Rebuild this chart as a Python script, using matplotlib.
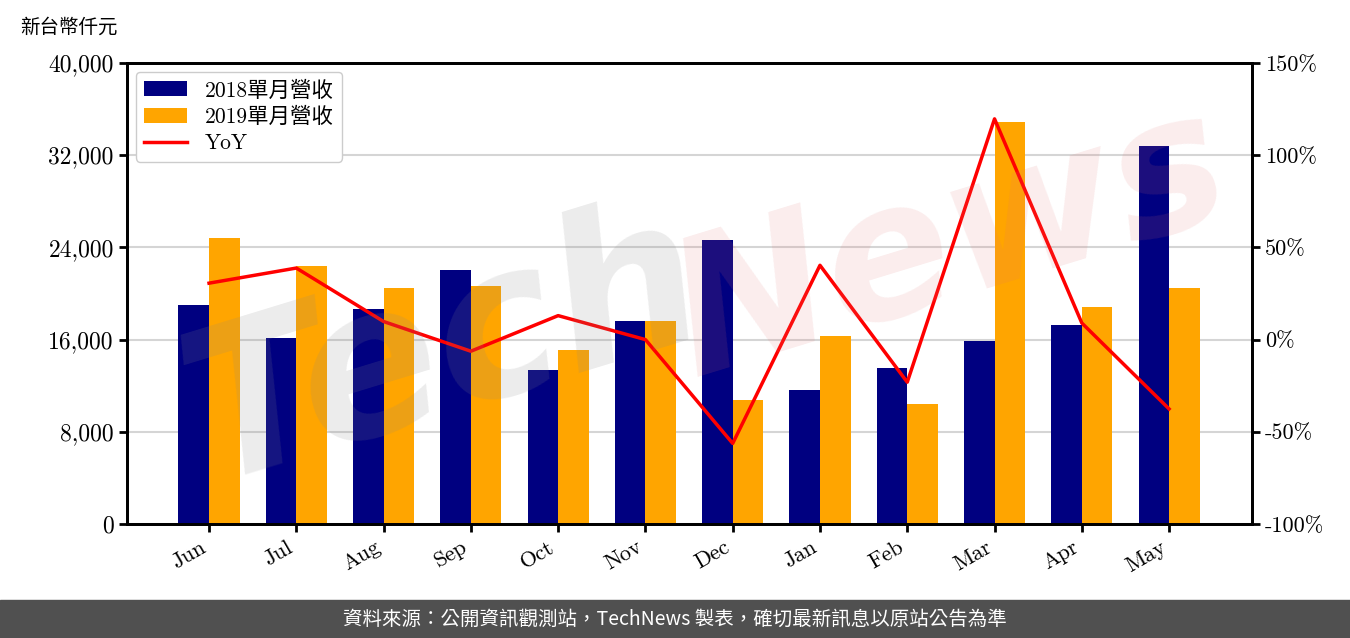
import numpy as np
import matplotlib
matplotlib.use("Agg")
import matplotlib.pyplot as plt

plt.rcParams['font.family'] = ['cmr10', 'Noto Sans CJK TC', 'DejaVu Sans']
plt.rcParams['axes.unicode_minus'] = False

months = ["Jun", "Jul", "Aug", "Sep", "Oct", "Nov", "Dec", "Jan", "Feb", "Mar", "Apr", "May"]
rev_2018 = [19000, 16100, 18650, 22040, 13360, 17610, 24640, 11630, 13540, 15880, 17270, 32800]
rev_2019 = [24820, 22390, 20480, 20650, 15100, 17610, 10760, 16310, 10410, 34880, 18830, 20480]
yoy = [30.6, 38.8, 9.8, -6.3, 13.0, 0.0, -56.3, 40.3, -23.1, 119.7, 9.0, -37.6]

left_ticks = [0, 8000, 16000, 24000, 32000, 40000]
right_ticks = [-100, -50, 0, 50, 100, 150]

fig = plt.figure(figsize=(13.5, 6.38), dpi=100)
ax = fig.add_axes([127/1350, 114/638, 1125/1350, 461/638])

x = np.arange(len(months))
w = 0.35
b1 = ax.bar(x - w/2, rev_2018, w, color="#000080", label="2018單月營收", zorder=2)
b2 = ax.bar(x + w/2, rev_2019, w, color="#FFA500", label="2019單月營收", zorder=2)

ax.set_xlim(-0.94, 11.95)
ax.set_ylim(0, 40000)
ax.set_yticks(left_ticks)
ax.set_yticklabels(["{:,}".format(v) for v in left_ticks], fontsize=17)
ax.set_xticks(x)
ax.set_xticklabels(months, rotation=30, ha="right", fontsize=16)
ax.grid(axis="y", color="#d5d5d5", linewidth=1.5, zorder=0)
ax.set_axisbelow(True)

ax2 = ax.twinx()
line, = ax2.plot(x, yoy, color="red", linewidth=2.5, label="YoY", zorder=3)
ax2.set_ylim(-100, 150)
ax2.set_yticks(right_ticks)
ax2.set_yticklabels(["{}%".format(v) for v in right_ticks], fontsize=16)

for a in (ax, ax2):
    for s in a.spines.values():
        s.set_linewidth(2)
    a.tick_params(width=2, length=6)

leg = ax.legend(handles=[b1, b2, line], loc="upper left", fontsize=15.5,
                bbox_to_anchor=(0.0, 1.0), framealpha=1, edgecolor="#cccccc",
                labelspacing=0.3, handlelength=2.0, borderaxespad=0.4)
leg.set_zorder(5)

fig.text(20/1350, 1 - 27/638, "新台幣仟元", fontsize=14, va="center", ha="left")

# watermark
fig.text(445/1350, 1 - 350/638, "Tech", fontsize=150, color="#888888", alpha=0.16, rotation=17,
         family="DejaVu Sans", weight="bold", style="italic", va="center", ha="center", zorder=10)
fig.text(950/1350, 1 - 245/638, "News", fontsize=135, color="#e07070", alpha=0.13, rotation=17,
         family="DejaVu Sans", weight="bold", style="italic", va="center", ha="center", zorder=10)

# footer
fig.patches.append(plt.Rectangle((0, 0), 1, 38/638, transform=fig.transFigure,
                                 color="#505050", zorder=0))
fig.text(0.5, 19/638, "資料來源：公開資訊觀測站，TechNews 製表，確切最新訊息以原站公告為準",
         color="white", fontsize=14, ha="center", va="center",
         family=["Noto Sans CJK TC", "DejaVu Sans"])

fig.savefig("out.png", dpi=100)
